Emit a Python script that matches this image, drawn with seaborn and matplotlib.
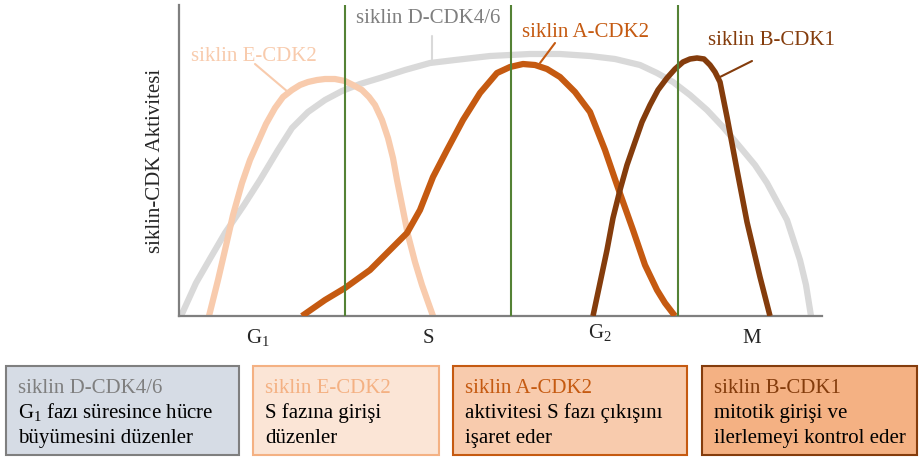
import matplotlib
matplotlib.use('Agg')
import matplotlib.pyplot as plt
from matplotlib.patches import Rectangle
import seaborn as sns

sns.set_style("white")
plt.rcParams['font.family'] = ['Liberation Serif', 'DejaVu Serif']
plt.rcParams['mathtext.fontset'] = 'custom'
plt.rcParams['mathtext.rm'] = 'Liberation Serif'
plt.rcParams['mathtext.default'] = 'regular'

# activity curves (x: cell cycle time, y: activity)
d_x = [2, 17, 32, 46, 65, 81, 99, 113, 129, 146, 163, 181, 201, 226, 251, 276, 311, 351,
       381, 411, 436, 461, 478, 494, 511, 528, 544, 561, 576, 588, 608, 621, 627, 632]
d_y = [0, 33, 59, 83, 111, 136, 166, 188, 204, 216, 225, 232, 238, 246, 253, 256, 260, 262,
       262, 260, 257, 251, 243, 234, 221, 206, 189, 169, 151, 133, 96, 56, 31, 0]

e_x = [30, 39, 46, 54, 63, 71, 79, 87, 96, 104, 113, 121, 129, 138, 146, 156, 166,
       174, 183, 190, 196, 203, 209, 214, 218, 224, 229, 236, 243, 249, 254]
e_y = [0, 36, 66, 101, 133, 156, 174, 192, 208, 219, 226, 231, 234, 236, 237, 237, 235,
       231, 226, 219, 211, 196, 178, 158, 136, 106, 81, 54, 31, 14, 0]

a_x = [123, 146, 166, 191, 211, 228, 241, 254, 268, 284, 301, 318, 331, 344, 356, 368,
       381, 396, 411, 426, 438, 454, 466, 478, 486, 496]
a_y = [0, 16, 28, 46, 66, 83, 106, 139, 166, 196, 223, 243, 249, 252, 251, 247,
       239, 224, 204, 166, 131, 86, 51, 26, 13, 0]

b_x = [414, 421, 428, 434, 441, 448, 456, 463, 471, 479, 488, 496, 504, 511, 518, 525,
       531, 536, 541, 548, 558, 568, 581, 591]
b_y = [0, 33, 66, 98, 126, 151, 174, 194, 211, 226, 238, 247, 254, 257, 258, 257,
       251, 244, 234, 199, 146, 94, 39, 0]

phase_bounds = [166, 332, 499]
phase_pos = [79, 249, 421, 573]
phase_labels = ['G$_1$', 'S', 'G$_2$', 'M']

box_titles = ['siklin D-CDK4/6', 'siklin E-CDK2', 'siklin A-CDK2', 'siklin B-CDK1']
box_bodies = [['G$_1$ fazı süresince hücre', 'büyümesini düzenler'],
              ['S fazına girişi', 'düzenler'],
              ['aktivitesi S fazı çıkışını', 'işaret eder'],
              ['mitotik girişi ve', 'ilerlemeyi kontrol eder']]

col_d, col_e, col_a, col_b = '#d9d9d9', '#f8cbad', '#c55a11', '#843c0c'
title_cols = ['#7f7f7f', '#f4b183', '#c55a11', '#843c0c']
box_fill = ['#d6dce5', '#fbe5d6', '#f8cbad', '#f4b183']
box_edge = ['#7f7f7f', '#f4b183', '#c55a11', '#843c0c']
fs = 15

fig = plt.figure(figsize=(9.21, 4.57), dpi=100)
ax = fig.add_axes([179 / 921, 141 / 457, 643 / 921, 311 / 457])

lw = 4.5
sns.lineplot(x=d_x, y=d_y, ax=ax, color=col_d, lw=lw, solid_capstyle='butt', zorder=1)
sns.lineplot(x=e_x, y=e_y, ax=ax, color=col_e, lw=lw, solid_capstyle='butt', zorder=2)
sns.lineplot(x=a_x, y=a_y, ax=ax, color=col_a, lw=lw, solid_capstyle='butt', zorder=3)
sns.lineplot(x=b_x, y=b_y, ax=ax, color=col_b, lw=4, solid_capstyle='butt', zorder=4)
for xb in phase_bounds:
    ax.plot([xb, xb], [0, 311], color='#548235', lw=1.5, zorder=5)

ax.set_xlim(0, 643)
ax.set_ylim(0, 311)
ax.set_xticks([])
ax.set_yticks([])
# phase names under the axis (G2 sits a little higher in the original)
xt = ax.get_xaxis_transform()
for pos, lab in zip(phase_pos, phase_labels):
    yoff = -0.071 if lab.startswith('G$_2') else -0.087
    ax.text(pos, yoff, lab, transform=xt, fontsize=fs, ha='center', va='baseline')
ax.set_ylabel('siklin-CDK Aktivitesi', fontsize=fs, labelpad=10)
for s in ['top', 'right']:
    ax.spines[s].set_visible(False)
for s in ['left', 'bottom']:
    ax.spines[s].set_color('#7f7f7f')
    ax.spines[s].set_linewidth(1.6)

# curve labels with leader lines
ax.text(249, 293, 'siklin D-CDK4/6', color='#7f7f7f', fontsize=fs, ha='center', va='baseline')
ax.plot([253, 253], [280, 253], color=col_d, lw=1.5, clip_on=False)
ax.text(75, 255, 'siklin E-CDK2', color=col_e, fontsize=fs, ha='center', va='baseline')
ax.plot([76, 109], [252, 224], color=col_e, lw=1.5)
ax.text(406, 279, 'siklin A-CDK2', color=col_a, fontsize=fs, ha='center', va='baseline')
ax.plot([376, 361], [273, 253], color=col_a, lw=1.5)
ax.text(592, 271, 'siklin B-CDK1', color=col_b, fontsize=fs, ha='center', va='baseline')
ax.plot([573, 541], [255, 239], color=col_b, lw=1.5)

# description boxes below the chart
ov = fig.add_axes([0, 0, 1, 1])
ov.set_xlim(0, 921)
ov.set_ylim(457, 0)
ov.axis('off')
box_left = [6, 253, 453, 702]
box_right = [239, 439, 687, 917]
for i in range(4):
    ov.add_patch(Rectangle((box_left[i], 366), box_right[i] - box_left[i], 89,
                           facecolor=box_fill[i], edgecolor=box_edge[i], lw=1.5))
    ov.text(box_left[i] + 12, 393, box_titles[i], color=title_cols[i], fontsize=fs, va='baseline')
    for j, line in enumerate(box_bodies[i]):
        ov.text(box_left[i] + 12, 418 + 25 * j, line, color='black', fontsize=fs, va='baseline')

fig.savefig('out.png', dpi=100)
